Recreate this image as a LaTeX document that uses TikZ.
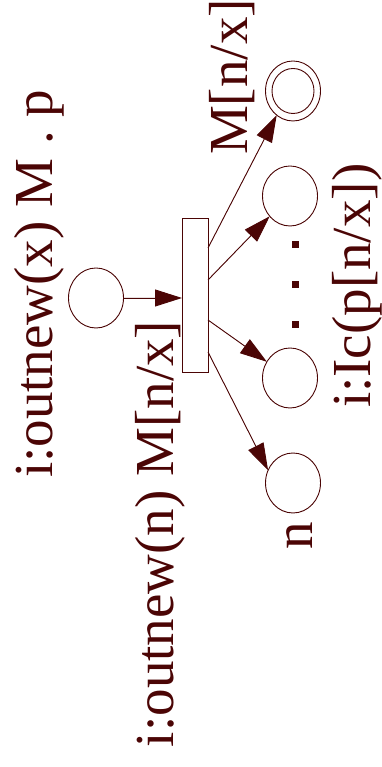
\documentclass[tikz,border=0pt]{standalone}
\usepackage{fontspec}
\setmainfont{Liberation Serif}
\usetikzlibrary{shapes.geometric,arrows.meta,calc}
\definecolor{ink}{RGB}{75,5,5}
\begin{document}
\begin{tikzpicture}[x=1pt,y=1pt,
  every node/.style={inner sep=0pt,outer sep=0pt},
  place/.style={draw=ink,ellipse,line width=0.9pt,minimum width=55pt,minimum height=60pt},
  inplace/.style={draw=ink,ellipse,line width=0.9pt,minimum width=42pt,minimum height=45pt},
  trans/.style={draw=ink,rectangle,line width=0.9pt,minimum width=26pt,minimum height=154pt},
  arc/.style={draw=ink,line width=0.9pt,-{Triangle[length=27pt,width=17pt]},fill=ink},
  lab/.style={text=ink,rotate=90,anchor=base west,font=\fontsize{55pt}{60pt}\selectfont},
  dotbox/.style={fill=ink,minimum width=7pt,minimum height=7pt}]
\useasboundingbox (0,0) rectangle (382,767);
% nodes
\node[place] (p0) at (96,469) {};
\node[trans] (t) at (195,472) {};
\node[place] (pa) at (293,676) {};
\node[inplace] (pai) at (293,676) {};
\node[place] (p1) at (290,571) {};
\node[place] (p2) at (290,389) {};
\node[place] (p3) at (293,284) {};
\node[dotbox] (d1) at (295.5,522) {};
\node[dotbox] (d2) at (295.5,482) {};
\node[dotbox] (d3) at (295.5,442) {};
% start points on the transition
\coordinate (e1) at ($(t.east)+(0,47)$);
\coordinate (e2) at ($(t.east)+(0,15)$);
\coordinate (e3) at ($(t.east)+(0,-25)$);
\coordinate (e4) at ($(t.east)+(0,-57)$);
% arcs
\draw[arc] (p0.east) -- (p0.east -| t.west);
\draw[arc] (e1) -- (pa.236);
\draw[arc] (e2) -- (p1.225);
\draw[arc] (e3) -- (p2.145);
\draw[arc] (e4) -- (p3.153);
% labels
\node[lab] (l1) at (52,289) {i:outnew(x) M . p};
\node[lab] (l2) at (173,20) {i:outnew(n) M[n/x]};
\node[lab] (l3) at (247,612) {M[n/x]};
\node[lab] (l4) at (370,359) {i:Ic(p[n/x])};
\node[lab] (l5) at (312,217) {n};
\end{tikzpicture}
\end{document}
